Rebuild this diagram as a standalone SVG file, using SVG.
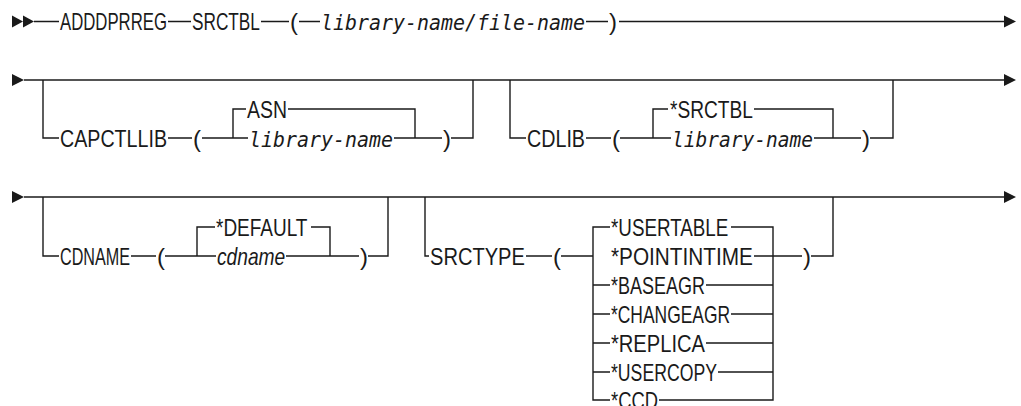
<svg xmlns="http://www.w3.org/2000/svg" width="1021" height="406" viewBox="0 0 1021 406">
<style>
.k{font-family:"Liberation Sans",Arial,sans-serif;font-size:24px;fill:#1a1a1a}
.v{font-family:"DejaVu Sans Mono","Liberation Mono",monospace;font-style:italic;font-size:21px;fill:#1a1a1a}
.vs{font-family:"Liberation Sans",Arial,sans-serif;font-style:italic;font-size:24px;fill:#1a1a1a}
.p{font-family:"Liberation Sans",Arial,sans-serif;font-size:24px;fill:#1a1a1a}
.ln{fill:none;stroke:#1a1a1a;stroke-width:1.4}
.ah{fill:#1a1a1a}
</style>
<rect width="1021" height="406" fill="#fff"/>
<g id="connectors">
<polygon class="ah" points="12,15.5 23,21.5 12,27.5"/>
<polygon class="ah" points="23,15.5 34,21.5 23,27.5"/>
<path class="ln" d="M34,21.5H59M168,21.5H191M261,21.5H289M299,21.5H320M586,21.5H608M619,21.5H1006"/>
<polygon class="ah" points="1004,15.5 1016,21.5 1004,27.5"/>
<polygon class="ah" points="12,74 24,80 12,86"/>
<path class="ln" d="M24,80H1006"/>
<polygon class="ah" points="1004,74 1016,80 1004,86"/>
<path class="ln" d="M43,80V138H59M168,138H192M202,138H233V109H246M288,109H415V138H394M233,138H248M415,138H442M451,138H473V80"/>
<path class="ln" d="M510,80V138H526M586,138H611M620,138H653V109H668M754,109H833V138H814M653,138H671M833,138H861M870,138H893V80"/>
<polygon class="ah" points="12,191 24,197 12,203"/>
<path class="ln" d="M24,197H1006"/>
<polygon class="ah" points="1004,191 1016,197 1004,203"/>
<path class="ln" d="M43,197V256H59M131,256H156M165,256H197V227H215M311,227H330V256H286M197,256H216M330,256H359M368,256H388V197"/>
<path class="ln" d="M425,197V256H429M526,256H552M561,256H593V227H610M593,256V400H610M731,227H773V400H659M754,256H773M706,285H773M593,285H610M731,314H773M593,314H610M706,343H773M593,343H610M718,372H773M593,372H610M773,256H802M811,256H833V197"/>
</g>
<g id="n-adddprreg"><text class="k" transform="translate(60,30) scale(0.698,1)">ADDDPRREG</text></g>
<g id="n-srctbl"><text class="k" transform="translate(192,30) scale(0.718,1)">SRCTBL</text></g>
<g id="n-srctbl-open"><text class="p" x="290" y="30">(</text></g>
<g id="n-srctbl-value"><text class="v" x="321" y="30" textLength="264" lengthAdjust="spacingAndGlyphs">library-name/file-name</text></g>
<g id="n-srctbl-close"><text class="p" x="609" y="30">)</text></g>

<g id="n-capctllib"><text class="k" transform="translate(60,146.5) scale(0.819,1)">CAPCTLLIB</text></g>
<g id="n-capctllib-open"><text class="p" x="193" y="146.5">(</text></g>
<g id="n-asn"><text class="k" transform="translate(247,117.5) scale(0.811,1)">ASN</text></g>
<g id="n-capctllib-libname"><text class="v" x="249" y="146.5" textLength="144" lengthAdjust="spacingAndGlyphs">library-name</text></g>
<g id="n-capctllib-close"><text class="p" x="443" y="146.5">)</text></g>

<g id="n-cdlib"><text class="k" transform="translate(527,146.5) scale(0.821,1)">CDLIB</text></g>
<g id="n-cdlib-open"><text class="p" x="612" y="146.5">(</text></g>
<g id="n-cdlib-srctbl"><text class="k" transform="translate(670,117.5) scale(0.798,1)">*SRCTBL</text></g>
<g id="n-cdlib-libname"><text class="v" x="672" y="146.5" textLength="141" lengthAdjust="spacingAndGlyphs">library-name</text></g>
<g id="n-cdlib-close"><text class="p" x="862" y="146.5">)</text></g>

<g id="n-cdname"><text class="k" transform="translate(60,264.5) scale(0.673,1)">CDNAME</text></g>
<g id="n-cdname-open"><text class="p" x="157" y="264.5">(</text></g>
<g id="n-default"><text class="k" transform="translate(216,235.5) scale(0.792,1)">*DEFAULT</text></g>
<g id="n-cdname-value"><text class="vs" transform="translate(217,264.5) scale(0.8,1)">cdname</text></g>
<g id="n-cdname-close"><text class="p" x="360" y="264.5">)</text></g>

<g id="n-srctype"><text class="k" transform="translate(430,264.5) scale(0.838,1)">SRCTYPE</text></g>
<g id="n-srctype-open"><text class="p" x="553" y="264.5">(</text></g>
<g id="n-usertable"><text class="k" transform="translate(611,235.5) scale(0.783,1)">*USERTABLE</text></g>
<g id="n-pointintime"><text class="k" transform="translate(611,264.5) scale(0.866,1)">*POINTINTIME</text></g>
<g id="n-baseagr"><text class="k" transform="translate(611,293.5) scale(0.750,1)">*BASEAGR</text></g>
<g id="n-changeagr"><text class="k" transform="translate(611,322.5) scale(0.726,1)">*CHANGEAGR</text></g>
<g id="n-replica"><text class="k" transform="translate(611,351.5) scale(0.839,1)">*REPLICA</text></g>
<g id="n-usercopy"><text class="k" transform="translate(611,380.5) scale(0.736,1)">*USERCOPY</text></g>
<g id="n-ccd"><text class="k" transform="translate(611,408.5) scale(0.767,1)">*CCD</text></g>
<g id="n-srctype-close"><text class="p" x="803" y="264.5">)</text></g>
</svg>
